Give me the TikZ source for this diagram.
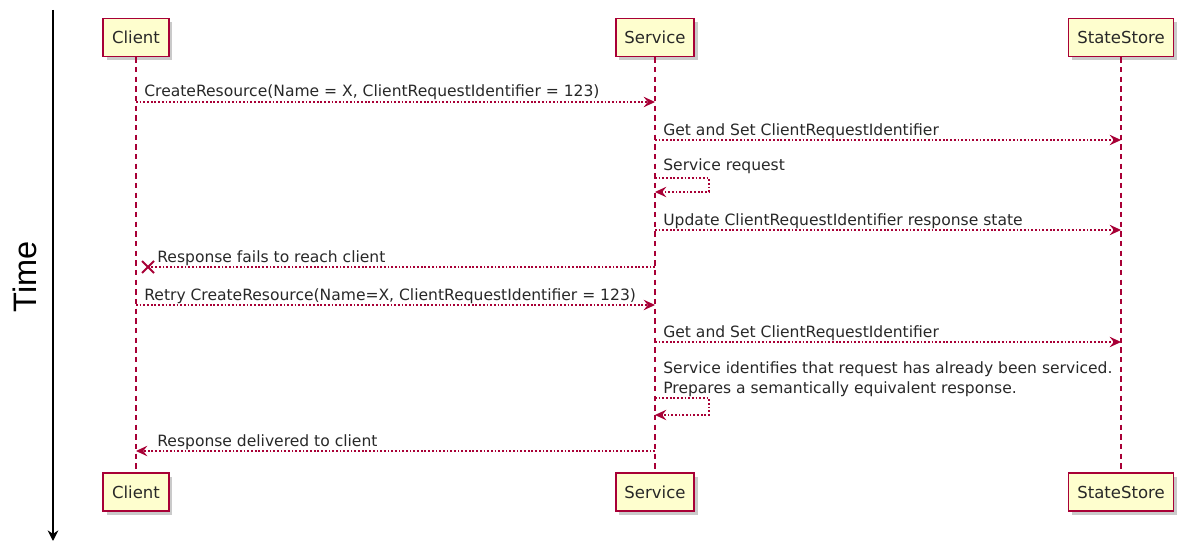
\documentclass[tikz,border=0pt]{standalone}
\usepackage{fontspec}
\setmainfont{DejaVu Sans}
\newfontfamily\axisfont{Liberation Sans}
\usepackage{tikz}
\usetikzlibrary{arrows.meta, positioning, shadows}
\definecolor{umlred}{RGB}{168,0,54}
\definecolor{umlfill}{RGB}{254,254,206}
\definecolor{umltext}{RGB}{40,40,40}

\tikzset{
  actor/.style={draw=umlred, fill=umlfill, line width=1pt, minimum height=0.76cm,
    inner xsep=5pt, text=umltext, font=\fontsize{9.4}{11}\selectfont,
    drop shadow={shadow xshift=2pt, shadow yshift=-2pt, opacity=0.35, fill=black!60}},
  lifeline/.style={umlred, line width=0.7pt, dash pattern=on 3pt off 2.5pt},
  msg/.style={umlred, line width=0.6pt, dash pattern=on 1pt off 1.1pt,
    -{Stealth[length=6.5pt, width=6pt, inset=2.4pt]}},
  msglabel/.style={anchor=base west, inner sep=0pt, text=umltext,
    font=\fontsize{8.85}{11.3}\selectfont}
}

\begin{document}
\begin{tikzpicture}[x=0.02cm, y=-0.02cm]
  \useasboundingbox (0,0) rectangle (1177,544);

  % time axis
  \coordinate (tstart) at (53,10);
  \coordinate (tend) at (53,541);
  \draw[line width=1.1pt, -{Stealth[length=6pt, width=6pt]}] (tstart) -- (tend);
  \node[rotate=90, font=\axisfont\fontsize{18.5}{20}\selectfont] (time) at (25,277) {Time};

  % participants
  \node[actor] (cliTop) at (136,37.5) {Client};
  \node[actor] (srvTop) at (655,37.5) {Service};
  \node[actor] (stoTop) at (1121,37.5) {StateStore};
  \node[actor] (cliBot) at (136,492) {Client};
  \node[actor] (srvBot) at (655,492) {Service};
  \node[actor] (stoBot) at (1121,492) {StateStore};

  \foreach \p in {cli,srv,sto}
    \draw[lifeline] (\p Top) -- (\p Bot);

  % message rows
  \coordinate (m1) at (0,102);
  \coordinate (m2) at (0,140);
  \coordinate (m3) at (0,178);
  \coordinate (m4) at (0,230);
  \coordinate (m5) at (0,267);
  \coordinate (m6) at (0,305);
  \coordinate (m7) at (0,342);
  \coordinate (m8) at (0,398);
  \coordinate (m9) at (0,451);

  \draw[msg] (cliTop |- m1) -- (srvTop |- m1);
  \node[msglabel] at ([shift={(8,-5)}]cliTop |- m1)
    {CreateResource(Name = X, ClientRequestIdentifier = 123)};

  \draw[msg] (srvTop |- m2) -- (stoTop |- m2);
  \node[msglabel] at ([shift={(8,-5)}]srvTop |- m2) {Get and Set ClientRequestIdentifier};

  \draw[msg] (srvTop |- m3) -- ++(54,0) -- ++(0,14) -- ++(-54,0);
  \node[msglabel] at ([shift={(8,-7)}]srvTop |- m3) {Service request};

  \draw[msg] (srvTop |- m4) -- (stoTop |- m4);
  \node[msglabel] at ([shift={(8,-5)}]srvTop |- m4) {Update ClientRequestIdentifier response state};

  % lost response
  \coordinate (lost) at (148,267);
  \draw[msg, -] (srvTop |- m5) -- (lost);
  \draw[umlred, line width=1.1pt] ([shift={(-6,-6)}]lost) -- ([shift={(6,6)}]lost)
    ([shift={(-6,6)}]lost) -- ([shift={(6,-6)}]lost);
  \node[msglabel] at ([shift={(21,-5)}]cliTop |- m5) {Response fails to reach client};

  \draw[msg] (cliTop |- m6) -- (srvTop |- m6);
  \node[msglabel] at ([shift={(8,-5)}]cliTop |- m6)
    {Retry CreateResource(Name=X, ClientRequestIdentifier = 123)};

  \draw[msg] (srvTop |- m7) -- (stoTop |- m7);
  \node[msglabel] at ([shift={(8,-5)}]srvTop |- m7) {Get and Set ClientRequestIdentifier};

  \draw[msg] (srvTop |- m8) -- ++(54,0) -- ++(0,17) -- ++(-54,0);
  \node[msglabel, anchor=north west, align=left] at ([shift={(8,-37)}]srvTop |- m8)
    {Service identifies that request has already been serviced.\\
     Prepares a semantically equivalent response.};

  \draw[msg] (srvTop |- m9) -- (cliTop |- m9);
  \node[msglabel] at ([shift={(21,-5)}]cliTop |- m9) {Response delivered to client};
\end{tikzpicture}
\end{document}
